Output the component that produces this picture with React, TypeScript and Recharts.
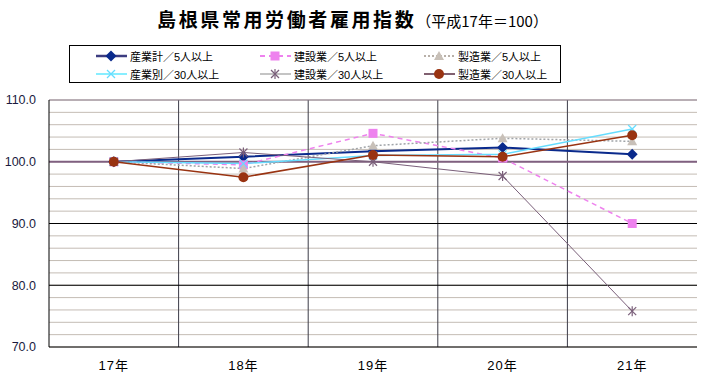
import { LineChart, Line, XAxis, YAxis, CartesianGrid, ReferenceLine } from "recharts";

const FONT = '"Liberation Sans", Arial, "Noto Sans CJK JP", sans-serif'

const categories = ["17年", "18年", "19年", "20年", "21年"]

const sangyoKei5 = [100, 100.8, 101.7, 102.3, 101.2]
const kensetsu5 = [100, 99.5, 104.6, 100.6, 90.0]
const seizo5 = [100, 98.9, 102.6, 103.8, 103.3]
const sangyoBetsu30 = [100, 99.7, 101.0, 101.2, 105.3]
const kensetsu30 = [100, 101.5, 100.0, 97.7, 75.8]
const seizo30 = [100, 97.5, 101.1, 100.8, 104.3]

const yTicks = [70, 72, 74, 76, 78, 80, 82, 84, 86, 88, 90, 92, 94, 96, 98, 100, 102, 104, 106, 108, 110]
const yLabelTicks = [70, 80, 90, 100, 110]

type Shape = "diamond" | "square" | "triangle" | "cross" | "star" | "circle"

interface SeriesDef {
    key: string
    name: string
    values: number[]
    color: string
    legendColor: string
    width: number
    dash?: string
    shape: Shape
    markColor: string
}

const SERIES: SeriesDef[] = [
    { key: "s1", name: "産業計／5人以上", values: sangyoKei5, color: "#0a2a8c", legendColor: "#3c3c80", width: 2, shape: "diamond", markColor: "#0a2a8c" },
    { key: "s2", name: "建設業／5人以上", values: kensetsu5, color: "#ee82ee", legendColor: "#ee82ee", width: 1.5, dash: "5 4", shape: "square", markColor: "#ee82ee" },
    { key: "s3", name: "製造業／5人以上", values: seizo5, color: "#a0a4a8", legendColor: "#b8b0a8", width: 1.5, dash: "2 2", shape: "triangle", markColor: "#c8c0b8" },
    { key: "s4", name: "産業別／30人以上", values: sangyoBetsu30, color: "#66ddff", legendColor: "#88eeff", width: 1.5, shape: "cross", markColor: "#66ddff" },
    { key: "s5", name: "建設業／30人以上", values: kensetsu30, color: "#7a5f7a", legendColor: "#b0b0b0", width: 1, shape: "star", markColor: "#7a5f7a" },
    { key: "s6", name: "製造業／30人以上", values: seizo30, color: "#993311", legendColor: "#806070", width: 1.5, shape: "circle", markColor: "#993311" },
]

const chartData = categories.map((cat, i) => {
    const row: Record<string, string | number> = { name: cat }
    for (const s of SERIES) {
        row[s.key] = s.values[i]
    }
    return row
})

function Marker({ shape, color, cx, cy }: { shape: Shape, color: string, cx: number, cy: number }) {
    switch (shape) {
        case "diamond":
            return <polygon points={`${cx},${cy - 5.5} ${cx + 5.5},${cy} ${cx},${cy + 5.5} ${cx - 5.5},${cy}`} fill={color} />
        case "square":
            return <rect x={cx - 4.5} y={cy - 4.5} width={9} height={9} fill={color} />
        case "triangle":
            return <polygon points={`${cx},${cy - 5} ${cx + 5},${cy + 4} ${cx - 5},${cy + 4}`} fill={color} />
        case "cross":
            return (
                <g stroke={color} strokeWidth={1.2}>
                    <line x1={cx - 4} y1={cy - 4} x2={cx + 4} y2={cy + 4} />
                    <line x1={cx - 4} y1={cy + 4} x2={cx + 4} y2={cy - 4} />
                </g>
            )
        case "star":
            return (
                <g stroke={color} strokeWidth={1.2}>
                    <line x1={cx - 4} y1={cy - 4} x2={cx + 4} y2={cy + 4} />
                    <line x1={cx - 4} y1={cy + 4} x2={cx + 4} y2={cy - 4} />
                    <line x1={cx} y1={cy - 5} x2={cx} y2={cy + 5} />
                </g>
            )
        default:
            return <circle cx={cx} cy={cy} r={5} fill={color} />
    }
}

function makeDot(s: SeriesDef) {
    return (props: any) => {
        const { cx, cy, index } = props
        if (cx == null || cy == null) return <g key={`${s.key}-${index}`} />
        return <g key={`${s.key}-${index}`}><Marker shape={s.shape} color={s.markColor} cx={cx} cy={cy} /></g>
    }
}

function LegendBox() {
    const colLeft = [26, 190, 354]
    return (
        <div style={{ position: "absolute", left: 69, top: 45, width: 490, height: 36, border: "1px solid #000", background: "#fff" }}>
            {SERIES.map((s, i) => {
                const col = i % 3
                const row = Math.floor(i / 3)
                return (
                    <div key={s.key} style={{ position: "absolute", left: colLeft[col], top: row * 18 + 2, height: 16, display: "flex", alignItems: "center" }}>
                        <svg width={34} height={16}>
                            <line x1={0} y1={8} x2={31} y2={8} stroke={s.legendColor} strokeWidth={s.width + 0.5} strokeDasharray={s.dash} />
                            <Marker shape={s.shape} color={s.markColor} cx={15} cy={8} />
                        </svg>
                        <span style={{ fontSize: 11, fontFamily: FONT, color: "#000", whiteSpace: "nowrap" }}>{s.name}</span>
                    </div>
                )
            })}
        </div>
    )
}

export default function App() {
    return (
        <div style={{ position: "absolute", left: 0, top: 0, width: 705, height: 380, background: "#fff", fontFamily: FONT }}>
            <div style={{ position: "absolute", left: 0, top: 5, width: 705, textAlign: "center", whiteSpace: "nowrap" }}>
                <span style={{ fontSize: 19, fontWeight: "bold", letterSpacing: 2.6, fontFamily: '"Noto Sans CJK JP", sans-serif' }}>島根県常用労働者雇用指数</span>
                <span style={{ fontSize: 15, fontFamily: '"Noto Sans CJK JP", sans-serif' }}>（平成17年＝100）</span>
            </div>
            <LegendBox />
            <div style={{ position: "absolute", left: 0, top: 0 }}>
                <LineChart width={705} height={380} data={chartData} margin={{ top: 100, right: 8, bottom: 3, left: 0 }}>
                    <CartesianGrid stroke="#c4bcb4" horizontal={true} vertical={false} />
                    <CartesianGrid
                        stroke="#3c3c48"
                        horizontal={false}
                        vertical={true}
                        verticalCoordinatesGenerator={({ offset }: any) =>
                            categories.slice(1).map((_, i) => offset.left + (offset.width * (i + 1)) / categories.length)
                        }
                        syncWithTicks={false}
                    />
                    <XAxis
                        dataKey="name"
                        scale="band"
                        height={30}
                        axisLine={{ stroke: "#000" }}
                        tickLine={false}
                        tickSize={0}
                        tickMargin={14}
                        tick={{ fill: "#000", fontSize: 13, letterSpacing: 1, fontFamily: FONT }}
                    />
                    <YAxis
                        width={49}
                        domain={[70, 110]}
                        ticks={yTicks}
                        interval={0}
                        tickFormatter={(v: number) => (yLabelTicks.includes(v) ? v.toFixed(1) : "")}
                        axisLine={{ stroke: "#000" }}
                        tickLine={false}
                        tickSize={0}
                        tickMargin={13}
                        tick={{ fill: "#1a1a40", fontSize: 12.5, fontFamily: FONT }}
                    />
                    <YAxis yAxisId="right" orientation="right" width={0} domain={[70, 110]} axisLine={{ stroke: "#806080", strokeWidth: 1.5 }} tick={false} tickLine={false} />
                    <ReferenceLine y={110} stroke="#908090" />
                    <ReferenceLine y={90} stroke="#000" />
                    <ReferenceLine y={80} stroke="#000" />
                    <ReferenceLine y={100} stroke="#806080" strokeWidth={2} />
                    {SERIES.map((s) => (
                        <Line
                            key={s.key}
                            dataKey={s.key}
                            name={s.name}
                            stroke={s.color}
                            strokeWidth={s.width}
                            strokeDasharray={s.dash}
                            dot={makeDot(s)}
                            activeDot={false}
                            isAnimationActive={false}
                        />
                    ))}
                </LineChart>
            </div>
        </div>
    )
}
